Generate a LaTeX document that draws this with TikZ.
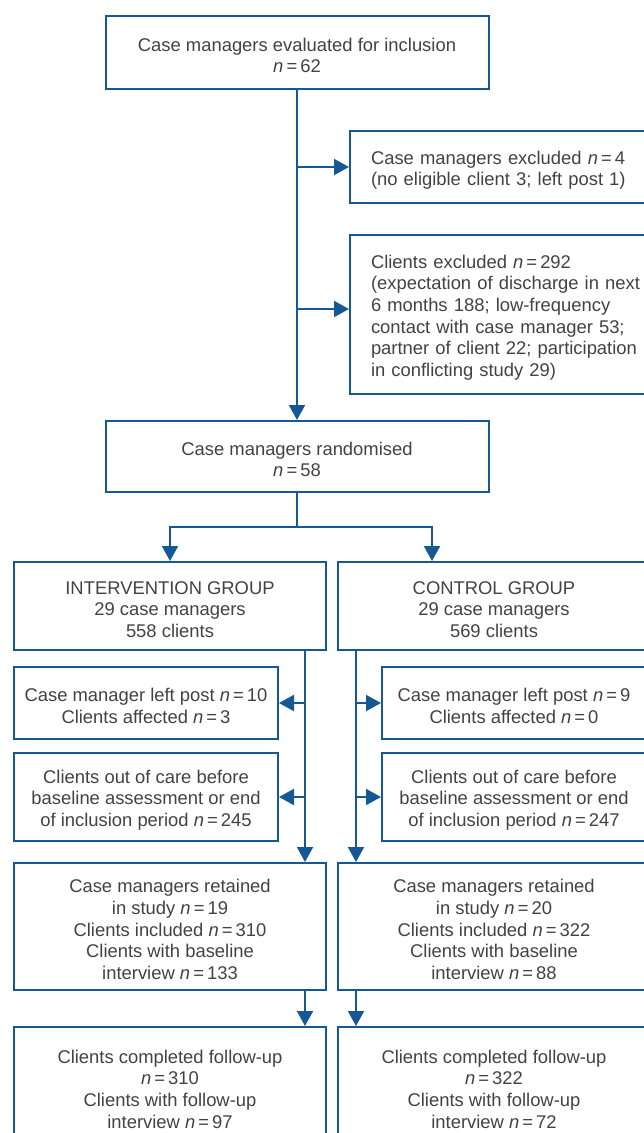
\documentclass[tikz,border=0pt]{standalone}
\usepackage{fontspec}
\setmainfont{Liberation Sans}
\usepackage{tikz}
\usetikzlibrary{shapes,arrows.meta,positioning}
\definecolor{flowblue}{RGB}{22,88,150}
\definecolor{flowtext}{RGB}{66,66,66}
\newcommand{\ncount}[1]{\textit{n}\,=\,#1}
\newcommand{\topstrut}{\rule{0pt}{19.5pt}}
\tikzstyle{block} = [rectangle, draw=flowblue, line width=2pt, text=flowtext, align=center, inner sep=4pt, font=\fontsize{18.4}{21.6}\selectfont]
\tikzstyle{sideblock} = [block, anchor=west, align=left, text width=380pt, inner xsep=21pt]
\tikzstyle{flowline} = [draw=flowblue, line width=2pt]
\tikzstyle{flowarrow} = [flowline, -{Triangle[length=15pt,width=16pt]}]

\begin{document}
\begin{tikzpicture}[x=1pt, y=-1pt]
\path[use as bounding box] (0,0) rectangle (644,1133);
\clip (0,0) rectangle (644,1133);
% screening
\node[block, minimum width=383pt, minimum height=73pt] (eval) at (297,52.5)
	{\topstrut Case managers evaluated for inclusion\\ \ncount{62}};
\node[sideblock, minimum height=72pt] (exclcm) at (349,167)
	{\topstrut Case managers excluded \ncount{4}\\ (no eligible client 3; left post 1)};
\node[sideblock, minimum height=159pt] (exclcl) at (349,314.5)
	{\topstrut Clients excluded \ncount{292}\\ (expectation of discharge in next\\ 6 months 188; low-frequency\\ contact with case manager 53;\\ partner of client 22; participation\\ in conflicting study 29)};
\node[block, minimum width=383pt, minimum height=71pt] (rand) at (297,456.5)
	{\topstrut Case managers randomised\\ \ncount{58}};
% the two arms
\begin{scope}[every node/.style={block, minimum width=312pt}]
\node[minimum height=88pt] (interv) at (170,606)
	{\topstrut INTERVENTION GROUP\\ 29 case managers\\ 558 clients};
\node[minimum height=88pt, right=10pt of interv] (control)
	{\topstrut CONTROL GROUP\\ 29 case managers\\ 569 clients};
\node[minimum height=127pt] (retl) at (170,926.5)
	{\topstrut Case managers retained\\ in study \ncount{19}\\ Clients included \ncount{310}\\ Clients with baseline\\ interview \ncount{133}};
\node[minimum height=127pt, right=10pt of retl] (retr)
	{\topstrut Case managers retained\\ in study \ncount{20}\\ Clients included \ncount{322}\\ Clients with baseline\\ interview \ncount{88}};
\node[minimum height=118pt] (folll) at (170,1086)
	{\topstrut Clients completed follow-up\\ \ncount{310}\\ Clients with follow-up\\ interview \ncount{97}};
\node[minimum height=118pt, right=10pt of folll] (follr)
	{\topstrut Clients completed follow-up\\ \ncount{322}\\ Clients with follow-up\\ interview \ncount{72}};
\end{scope}
% losses per arm
\begin{scope}[every node/.style={block, minimum width=264pt}]
\node[minimum height=72pt] (leftcm) at (146,703)
	{\topstrut Case manager left post \ncount{10}\\ Clients affected \ncount{3}};
\node[minimum height=88pt] (leftcl) at (146,797)
	{\topstrut Clients out of care before\\ baseline assessment or end\\ of inclusion period \ncount{245}};
\node[minimum height=72pt] (rightcm) at (514,703)
	{\topstrut Case manager left post \ncount{9}\\ Clients affected \ncount{0}};
\node[minimum height=88pt] (rightcl) at (514,797)
	{\topstrut Clients out of care before\\ baseline assessment or end\\ of inclusion period \ncount{247}};
\end{scope}
% connectors
\draw[flowarrow] (eval.south) -- (rand.north);
\draw[flowarrow] (eval.south |- exclcm.west) -- (exclcm.west);
\draw[flowarrow] (eval.south |- exclcl.west) ++(0,-5.5) -- ([yshift=5.5pt]exclcl.west);
\coordinate (split) at ([yshift=-34pt]rand.south);
\coordinate (ctrlin) at ([xshift=95pt]control.north west);
\draw[flowline] (rand.south) -- (split);
\draw[flowarrow] (split) -| (interv.north);
\draw[flowarrow] (split) -| (ctrlin);
\coordinate (ltrunk) at ([xshift=-22pt]interv.south east);
\coordinate (rtrunk) at ([xshift=19pt]control.south west);
\draw[flowarrow] (ltrunk) -- (ltrunk |- retl.north);
\draw[flowarrow] (rtrunk) -- (rtrunk |- retr.north);
\draw[flowarrow] (ltrunk |- leftcm.east) -- (leftcm.east);
\draw[flowarrow] (ltrunk |- leftcl.east) -- (leftcl.east);
\draw[flowarrow] (rtrunk |- rightcm.west) -- (rightcm.west);
\draw[flowarrow] (rtrunk |- rightcl.west) -- (rightcl.west);
\draw[flowarrow] (ltrunk |- retl.south) -- (ltrunk |- folll.north);
\draw[flowarrow] (rtrunk |- retr.south) -- (rtrunk |- follr.north);
\end{tikzpicture}
\end{document}
